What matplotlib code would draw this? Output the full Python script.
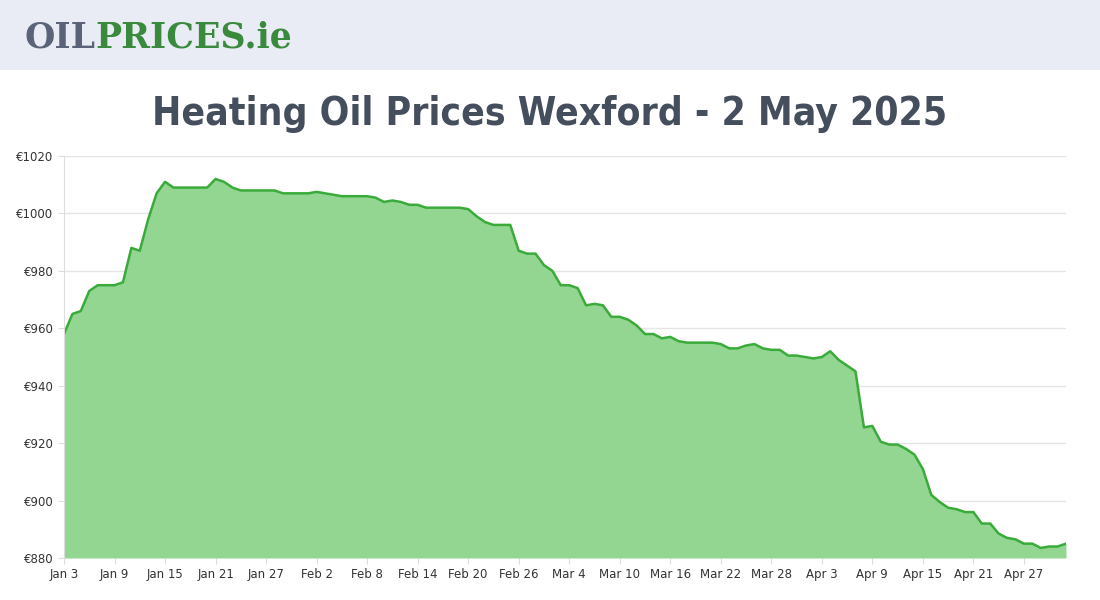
import datetime as dt

import matplotlib

matplotlib.use("Agg")
import matplotlib.dates as mdates
import matplotlib.pyplot as plt
from matplotlib import font_manager

start = dt.date(2025, 1, 3)
prices = [
    958, 965, 966, 973, 975, 975, 975, 976, 988, 987,
    998, 1007, 1011, 1009, 1009, 1009, 1009, 1009, 1012, 1011,
    1009, 1008, 1008, 1008, 1008, 1008, 1007, 1007, 1007, 1007,
    1007.5, 1007, 1006.5, 1006, 1006, 1006, 1006, 1005.5, 1004, 1004.5,
    1004, 1003, 1003, 1002, 1002, 1002, 1002, 1002, 1001.5, 999,
    997, 996, 996, 996, 987, 986, 986, 982, 980, 975,
    975, 974, 968, 968.5, 968, 964, 964, 963, 961, 958,
    958, 956.5, 957, 955.5, 955, 955, 955, 955, 954.5, 953,
    953, 954, 954.5, 953, 952.5, 952.5, 950.5, 950.5, 950, 949.5,
    950, 952, 949, 947, 945, 925.5, 926, 920.5, 919.5, 919.5,
    918, 916, 911, 902, 899.5, 897.5, 897, 896, 896, 892,
    892, 888.5, 887, 886.5, 885, 885, 883.5, 884, 884, 885,
]
dates = [start + dt.timedelta(days=i) for i in range(len(prices))]
tick_dates = [start + dt.timedelta(days=6 * i) for i in range(20)]
y_ticks = list(range(880, 1021, 20))

names = {f.name for f in font_manager.fontManager.ttflist}
title_font = next((n for n in ["Liberation Sans Narrow", "DejaVu Sans Condensed"] if n in names), "DejaVu Sans")

fig = plt.figure(figsize=(11, 6), dpi=100)
fig.patch.set_facecolor("white")

# header band
fig.patches.append(plt.Rectangle((0, 530 / 600), 1, 70 / 600, transform=fig.transFigure,
                                 facecolor="#e9ecf4", edgecolor="none"))
oil = fig.text(24 / 1100, 562 / 600, "OIL", color="#5a6378", fontsize=25, fontweight="bold",
               family="DejaVu Serif", va="center")
fig.canvas.draw()
oil_right = oil.get_window_extent().x1 / 1100
fig.text(oil_right, 562 / 600, "PRICES.ie", color="#3a8a3e", fontsize=25, fontweight="bold",
         family="DejaVu Serif", va="center")
fig.text(0.5, 486 / 600, "Heating Oil Prices Wexford - 2 May 2025", ha="center", va="center",
         fontsize=28, color="#454e5d", family=title_font, fontweight="bold",
         fontstretch="condensed")

ax = fig.add_axes([64 / 1100, 42 / 600, 1002 / 1100, 402 / 600])
ax.fill_between(dates, prices, 880, color="#92d692", linewidth=0)
ax.plot(dates, prices, color="#3aab3a", linewidth=1.8)
ax.set_ylim(880, 1020)
ax.set_xlim(start, start + dt.timedelta(days=119))
ax.set_yticks(y_ticks)
ax.set_yticklabels([f"€{v}" for v in y_ticks])
ax.set_xticks(tick_dates)
ax.xaxis.set_major_formatter(mdates.DateFormatter("%b %-d"))
ax.tick_params(labelsize=8.5, labelcolor="#333333", length=4, color="#dddddd")
ax.grid(True, axis="y", color="#e5e5e5", linewidth=1)
ax.set_axisbelow(True)
for side in ["top", "right", "bottom"]:
    ax.spines[side].set_visible(False)
ax.spines["left"].set_color("#dddddd")

fig.savefig("out.png", dpi=100)
